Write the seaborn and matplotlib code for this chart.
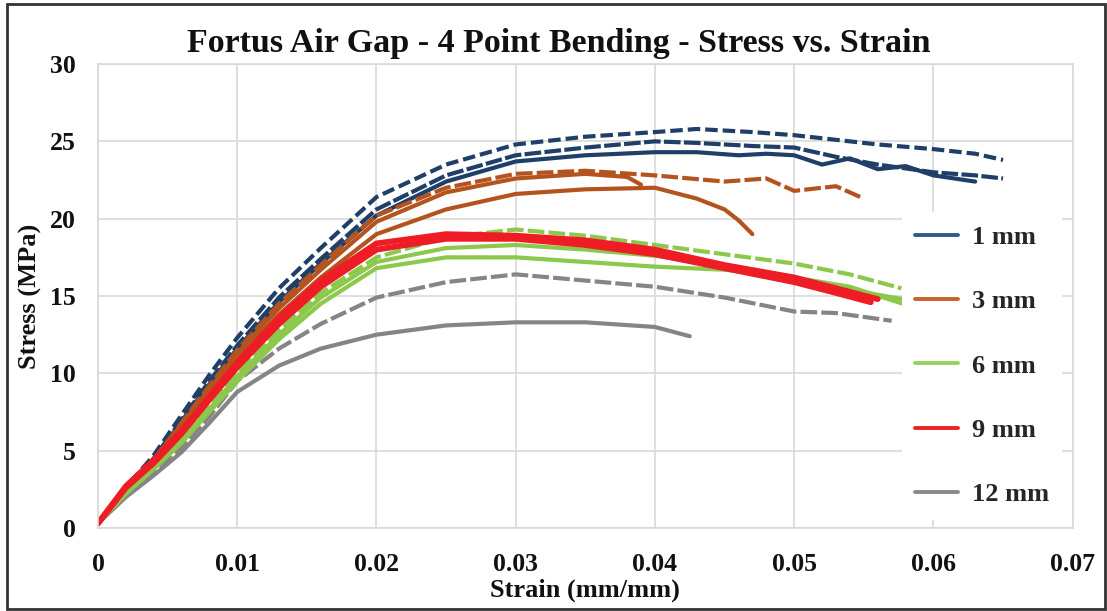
import matplotlib
matplotlib.use("Agg")
import matplotlib.pyplot as plt
import seaborn as sns
import pandas as pd
from matplotlib.lines import Line2D
from matplotlib.patches import Rectangle

# ---------------- data ----------------
groups = ["1 mm", "3 mm", "6 mm", "9 mm", "12 mm"]

x_std = [0, 0.002, 0.004, 0.006, 0.008, 0.010, 0.013, 0.016, 0.020, 0.025, 0.030]

mm1_a_x = x_std + [0.035, 0.040, 0.043, 0.047, 0.050, 0.053, 0.056, 0.060, 0.063, 0.065]
mm1_a_y = [0.3, 2.6, 4.7, 7.3, 9.9, 12.3, 15.5, 18.1, 21.4, 23.5, 24.8,
           25.3, 25.6, 25.8, 25.6, 25.4, 25.1, 24.8, 24.5, 24.2, 23.8]
mm1_b_x = x_std + [0.035, 0.040, 0.043, 0.047, 0.050, 0.053, 0.056, 0.060, 0.063, 0.065]
mm1_b_y = [0.3, 2.5, 4.5, 7.0, 9.5, 11.8, 14.9, 17.4, 20.6, 22.8, 24.1,
           24.6, 25.0, 24.9, 24.7, 24.6, 24.0, 23.5, 23.0, 22.8, 22.6]
mm1_c_x = x_std + [0.035, 0.040, 0.043, 0.046, 0.048, 0.050, 0.052, 0.054, 0.056, 0.058, 0.060, 0.063]
mm1_c_y = [0.3, 2.5, 4.4, 6.9, 9.3, 11.6, 14.6, 17.1, 20.2, 22.4, 23.7,
           24.1, 24.3, 24.3, 24.1, 24.2, 24.1, 23.5, 23.9, 23.2, 23.4, 22.8, 22.4]

mm3_a_x = x_std + [0.035, 0.040, 0.045, 0.048, 0.050, 0.053, 0.055]
mm3_a_y = [0.3, 2.5, 4.4, 6.8, 9.2, 11.5, 14.5, 17.0, 20.2, 22.0, 22.9,
           23.1, 22.8, 22.4, 22.6, 21.8, 22.1, 21.3]
mm3_b_x = x_std + [0.035, 0.038, 0.039]
mm3_b_y = [0.3, 2.5, 4.4, 6.7, 9.0, 11.3, 14.2, 16.7, 19.8, 21.7, 22.6,
           22.9, 22.7, 22.2]
mm3_c_x = x_std + [0.035, 0.040, 0.043, 0.045, 0.046, 0.047]
mm3_c_y = [0.3, 2.4, 4.3, 6.5, 8.8, 11.0, 13.8, 16.2, 19.0, 20.6, 21.6,
           21.9, 22.0, 21.3, 20.6, 19.9, 19.0]

mm6_a_x = x_std + [0.035, 0.040, 0.045, 0.050, 0.054, 0.0577]
mm6_a_y = [0.3, 2.3, 3.9, 5.8, 7.9, 10.0, 12.8, 15.2, 17.5, 18.8, 19.3,
           18.9, 18.3, 17.7, 17.1, 16.4, 15.5]
mm6_b_x = x_std + [0.035, 0.040, 0.045, 0.050, 0.054, 0.0578]
mm6_b_y = [0.3, 2.3, 3.9, 5.7, 7.7, 9.8, 12.5, 14.9, 17.2, 18.1, 18.3,
           18.0, 17.6, 17.0, 16.1, 15.4, 14.8]
mm6_c_x = x_std + [0.035, 0.040, 0.045, 0.050, 0.054, 0.0578]
mm6_c_y = [0.3, 2.2, 3.8, 5.5, 7.5, 9.5, 12.2, 14.5, 16.8, 17.5, 17.5,
           17.2, 16.9, 16.7, 16.2, 15.6, 14.5]

mm9_a_x = x_std + [0.035, 0.040, 0.045, 0.050, 0.053, 0.056]
mm9_a_y = [0.3, 2.7, 4.4, 6.3, 8.5, 10.7, 13.6, 16.0, 18.4, 19.0, 18.9,
           18.6, 18.0, 17.0, 16.2, 15.5, 14.8]
mm9_b_x = x_std + [0.035, 0.040, 0.045, 0.050, 0.053, 0.0555]
mm9_b_y = [0.3, 2.6, 4.2, 6.1, 8.3, 10.4, 13.2, 15.6, 18.0, 18.7, 18.7,
           18.3, 17.7, 16.8, 15.9, 15.2, 14.6]

mm12_a_x = x_std + [0.035, 0.040, 0.045, 0.050, 0.053, 0.057]
mm12_a_y = [0.3, 2.1, 3.6, 5.2, 7.2, 9.5, 11.6, 13.2, 14.9, 15.9, 16.4,
            16.0, 15.6, 14.9, 14.0, 13.9, 13.4]
mm12_b_x = x_std + [0.035, 0.040, 0.0425]
mm12_b_y = [0.3, 2.0, 3.4, 4.9, 6.8, 8.8, 10.5, 11.6, 12.5, 13.1, 13.3,
            13.3, 13.0, 12.4]

runs = [
    ("1 mm", "1a", mm1_a_x, mm1_a_y),
    ("1 mm", "1b", mm1_b_x, mm1_b_y),
    ("1 mm", "1c", mm1_c_x, mm1_c_y),
    ("3 mm", "3a", mm3_a_x, mm3_a_y),
    ("3 mm", "3b", mm3_b_x, mm3_b_y),
    ("3 mm", "3c", mm3_c_x, mm3_c_y),
    ("12 mm", "12a", mm12_a_x, mm12_a_y),
    ("12 mm", "12b", mm12_b_x, mm12_b_y),
    ("6 mm", "6a", mm6_a_x, mm6_a_y),
    ("6 mm", "6b", mm6_b_x, mm6_b_y),
    ("6 mm", "6c", mm6_c_x, mm6_c_y),
    ("9 mm", "9a", mm9_a_x, mm9_a_y),
    ("9 mm", "9b", mm9_b_x, mm9_b_y),
]

x_ticks = [0, 0.01, 0.02, 0.03, 0.04, 0.05, 0.06, 0.07]
x_tick_labels = ["0", "0.01", "0.02", "0.03", "0.04", "0.05", "0.06", "0.07"]
y_ticks = [0, 5, 10, 15, 20, 25, 30]
y_tick_labels = ["0", "5", "10", "15", "20", "25", "30"]

# ---------------- styles ----------------
palette = {"1 mm": "#1F3F68", "3 mm": "#B5531F", "6 mm": "#8CC84B",
           "9 mm": "#EE1C24", "12 mm": "#858585"}
legend_colors = {"1 mm": "#2F5A8C", "3 mm": "#C8622E", "6 mm": "#98D060",
                 "9 mm": "#F02020", "12 mm": "#8A8A8A"}
dash_style = {"1a": (0, (3, 1.2)), "1b": (0, (4, 0.8)), "3a": (0, (4, 1)),
              "6a": (0, (4, 1)), "12a": (0, (4, 1))}

rows = []
for g, r, xs, ys in runs:
    for x, y in zip(xs, ys):
        rows.append({"group": g, "run": r, "strain": x, "stress": y})
df = pd.DataFrame(rows)

sns.set_theme(style="white")
serif = ["Liberation Serif", "DejaVu Serif"]
plt.rcParams["font.family"] = serif

fig = plt.figure(figsize=(11.07, 6.11), dpi=100)
ax = fig.add_axes([0.0885, 0.1358, 0.8805, 0.7594])

for g, r, xs, ys in runs:
    sub = df[df["run"] == r]
    sns.lineplot(data=sub, x="strain", y="stress", color=palette[g],
                 linewidth=4.2 if g == "9 mm" else 3.0, sort=False,
                 estimator=None, linestyle=dash_style.get(r, "-"),
                 legend=False, ax=ax)

ax.set_xlim(0, 0.07)
ax.set_ylim(0, 30)
ax.set_xticks(x_ticks)
ax.set_xticklabels(x_tick_labels)
ax.set_yticks(y_ticks)
ax.set_yticklabels(y_tick_labels)
ax.grid(True, color="#D9D9D9", linewidth=1.2)
ax.set_axisbelow(True)
for s in ax.spines.values():
    s.set_visible(True)
    s.set_color("#D9D9D9")
    s.set_linewidth(1.2)
ax.tick_params(axis="both", length=0, labelsize=18.5)
ax.tick_params(axis="x", pad=18)
ax.tick_params(axis="y", pad=16)
for lab in ax.get_xticklabels() + ax.get_yticklabels():
    lab.set_fontweight("bold")
    lab.set_color("#111111")

ax.set_xlabel("Strain (mm/mm)", fontsize=19, fontweight="bold", labelpad=2, color="#111111")
ax.set_ylabel("Stress (MPa)", fontsize=19, fontweight="bold", labelpad=6, color="#111111")

fig.text(0.505, 0.928, "Fortus Air Gap - 4 Point Bending - Stress vs. Strain",
         ha="center", va="center", fontsize=24.5, fontweight="bold", color="#111111")

handles = [Line2D([0], [0], color=legend_colors[g], linewidth=2.8) for g in groups]
leg = ax.legend(handles, groups, loc="center left",
                bbox_to_anchor=(0.815, 0.401), bbox_transform=fig.transFigure,
                frameon=True, facecolor="white", edgecolor="none", framealpha=1,
                prop={"family": serif, "weight": "bold", "size": 19},
                handlelength=1.6, handletextpad=0.55, labelspacing=1.55,
                borderpad=0.5, borderaxespad=0)
leg.get_frame().set_linewidth(0)

fig.patches.append(Rectangle((0.006, 0.004), 0.992, 0.99, transform=fig.transFigure,
                             fill=False, edgecolor="#333333", linewidth=2))

fig.savefig("out.png", dpi=100)
